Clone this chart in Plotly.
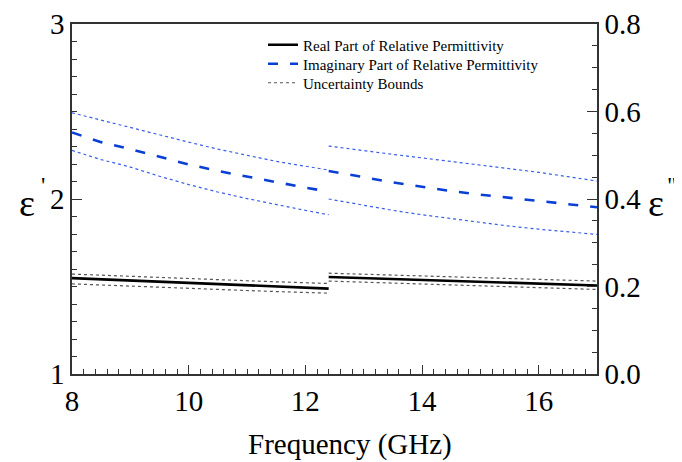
import plotly.graph_objects as go

# ---------------- data ----------------
freq_low = [8.0, 8.5, 9.0, 9.5, 10.0, 10.5, 11.0, 11.5, 12.0, 12.4]
freq_high = [12.4, 13.0, 13.5, 14.0, 14.5, 15.0, 15.5, 16.0, 16.5, 17.0]

real_low = [1.548, 1.541, 1.534, 1.527, 1.520, 1.513, 1.507, 1.500, 1.494, 1.488]
real_low_up = [1.571, 1.564, 1.558, 1.551, 1.545, 1.539, 1.533, 1.527, 1.521, 1.517]
real_low_dn = [1.515, 1.508, 1.502, 1.496, 1.489, 1.483, 1.477, 1.471, 1.466, 1.462]
real_high = [1.554, 1.548, 1.542, 1.537, 1.531, 1.526, 1.521, 1.516, 1.511, 1.506]
real_high_up = [1.576, 1.570, 1.565, 1.560, 1.555, 1.550, 1.545, 1.540, 1.535, 1.531]
real_high_dn = [1.531, 1.525, 1.519, 1.514, 1.508, 1.503, 1.498, 1.493, 1.488, 1.483]

imag_low = [0.552, 0.530, 0.514, 0.496, 0.479, 0.464, 0.451, 0.438, 0.426, 0.417]
imag_low_up = [0.597, 0.580, 0.564, 0.546, 0.530, 0.514, 0.500, 0.486, 0.475, 0.466]
imag_low_dn = [0.511, 0.490, 0.473, 0.452, 0.433, 0.416, 0.401, 0.387, 0.374, 0.364]
imag_high = [0.464, 0.449, 0.438, 0.428, 0.418, 0.410, 0.403, 0.395, 0.388, 0.381]
imag_high_up = [0.521, 0.510, 0.502, 0.494, 0.486, 0.478, 0.470, 0.461, 0.451, 0.441]
imag_high_dn = [0.400, 0.385, 0.374, 0.364, 0.355, 0.347, 0.338, 0.331, 0.325, 0.319]

left_ticks = [1, 2, 3]
right_ticks = [0.0, 0.2, 0.4, 0.6, 0.8]
x_ticks = [8, 10, 12, 14, 16]

FONT = "Liberation Serif, Times New Roman, serif"
BLUE = "#0a3fd6"
BLUE_B = "#3a5ee8"

# the page body has an 8px margin; the figure is sized so that it fills the window
OFF = 8
FIG_W, FIG_H = 682 - OFF, 462 - OFF
# plot-area geometry in window pixels
L, R, T, B = 72, 597, 24, 374
W, H = R - L, B - T


def px(x):
    return (x - L) / W


def py(y):
    return (B - y) / H


def join(a, b):
    return a + [None] + b


fx = join(freq_low, freq_high)

fig = go.Figure()

# uncertainty bounds – real part (left axis)
fig.add_trace(go.Scatter(x=fx, y=join(real_low_up, real_high_up), mode="lines",
                         line=dict(color="#555555", width=1.2, dash="dot"),
                         showlegend=False, yaxis="y", connectgaps=False))
fig.add_trace(go.Scatter(x=fx, y=join(real_low_dn, real_high_dn), mode="lines",
                         line=dict(color="#555555", width=1.2, dash="dot"),
                         showlegend=False, yaxis="y", connectgaps=False))
# uncertainty bounds – imaginary part (right axis)
fig.add_trace(go.Scatter(x=fx, y=join(imag_low_up, imag_high_up), mode="lines",
                         line=dict(color=BLUE_B, width=1.2, dash="dot"),
                         showlegend=False, yaxis="y2", connectgaps=False))
fig.add_trace(go.Scatter(x=fx, y=join(imag_low_dn, imag_high_dn), mode="lines",
                         line=dict(color=BLUE_B, width=1.2, dash="dot"),
                         showlegend=False, yaxis="y2", connectgaps=False))

# main curves
fig.add_trace(go.Scatter(x=fx, y=join(real_low, real_high), mode="lines",
                         name="Real Part of Relative Permittivity", legend="legend",
                         line=dict(color="black", width=2.6), yaxis="y",
                         connectgaps=False))
fig.add_trace(go.Scatter(x=fx, y=join(imag_low, imag_high), mode="lines",
                         name="Imaginary Part of Relative Permittivity", legend="legend2",
                         line=dict(color=BLUE, width=2.6, dash="10px,12px"),
                         yaxis="y2", connectgaps=False))
# legend-only entry for the bounds
fig.add_trace(go.Scatter(x=[None], y=[None], mode="lines",
                         name="Uncertainty Bounds", legend="legend3",
                         line=dict(color="#555555", width=1.2, dash="dot"),
                         yaxis="y"))

axis_common = dict(showline=True, linecolor="#333333", linewidth=1.5,
                   ticks="inside", tickcolor="#333333", showgrid=False,
                   zeroline=False, automargin=False,
                   tickfont=dict(family=FONT, size=29, color="black"))

sym_font = dict(family=FONT, size=38, color="black")
prime_font = dict(family=FONT, size=24, color="black")


def leg(ycenter):
    return dict(x=px(263), y=py(ycenter), xanchor="left", yanchor="middle",
                bgcolor="rgba(0,0,0,0)", borderwidth=0,
                font=dict(family=FONT, size=15, color="black"), itemwidth=30)


fig.update_layout(
    width=FIG_W, height=FIG_H,
    margin=dict(l=L - OFF, r=FIG_W - (R - OFF), t=T - OFF, b=FIG_H - (B - OFF),
                autoexpand=False),
    paper_bgcolor="white", plot_bgcolor="white",
    font=dict(family=FONT, color="black"),
    xaxis=dict(range=[8, 17], tickvals=x_ticks, ticklen=9, tickwidth=1.2,
               mirror=True,
               minor=dict(dtick=0.2, ticklen=5, tickcolor="#333333", ticks="inside"),
               **axis_common),
    yaxis=dict(range=[1, 3], tickvals=left_ticks, ticklen=10, tickwidth=1.2,
               minor=dict(dtick=0.1, ticklen=5, tickcolor="#333333", ticks="inside"),
               **axis_common),
    yaxis2=dict(range=[0, 0.8], tickvals=right_ticks, tickformat=".1f",
                overlaying="y", side="right", ticklen=10, tickwidth=1.2,
                minor=dict(dtick=0.05, ticklen=5, tickcolor="#333333", ticks="inside"),
                **axis_common),
    legend=leg(45),
    legend2=leg(64),
    legend3=leg(83),
    showlegend=True,
    annotations=[
        dict(text="Frequency (GHz)", xref="paper", yref="paper", x=px(350), y=py(444),
             xanchor="center", yanchor="middle", showarrow=False,
             font=dict(family=FONT, size=29, color="black")),
        dict(text="ε", xref="paper", yref="paper", x=px(27), y=py(203),
             xanchor="center", yanchor="middle", showarrow=False, font=sym_font),
        dict(text="'", xref="paper", yref="paper", x=px(43), y=py(185),
             xanchor="center", yanchor="middle", showarrow=False, font=prime_font),
        dict(text="ε", xref="paper", yref="paper", x=px(656), y=py(203),
             xanchor="center", yanchor="middle", showarrow=False, font=sym_font),
        dict(text='"', xref="paper", yref="paper", x=px(672), y=py(185),
             xanchor="center", yanchor="middle", showarrow=False, font=prime_font),
    ],
)

fig.write_html("out.html")
